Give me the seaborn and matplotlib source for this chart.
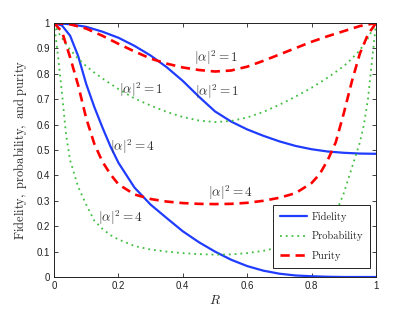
import numpy as np
import pandas as pd
import matplotlib
matplotlib.use("Agg")
import matplotlib.pyplot as plt
import seaborn as sns

# ---- data ----
R_fid1 = [0, 0.05, 0.1, 0.15, 0.2, 0.25, 0.3, 0.35, 0.4, 0.45, 0.5, 0.55, 0.6, 0.65,
          0.7, 0.75, 0.8, 0.85, 0.9, 0.95, 1.0]
fid1 = [1.0, 0.995, 0.985, 0.966, 0.942, 0.91, 0.872, 0.826, 0.772, 0.71, 0.652, 0.612,
        0.581, 0.556, 0.534, 0.516, 0.503, 0.494, 0.489, 0.486, 0.485]

R_fid4 = [0, 0.025, 0.05, 0.075, 0.1, 0.125, 0.15, 0.175, 0.2, 0.25, 0.3, 0.35, 0.4,
          0.45, 0.5, 0.55, 0.6, 0.65, 0.7, 0.75, 0.8, 0.85, 0.9, 0.95, 1.0]
fid4 = [1.0, 0.99, 0.95, 0.87, 0.76, 0.67, 0.59, 0.515, 0.45, 0.352, 0.285, 0.232,
        0.18, 0.137, 0.1, 0.068, 0.043, 0.025, 0.013, 0.006, 0.003, 0.001, 0.0, 0.0, 0.0]

R_prob1 = [0, 0.0125, 0.025, 0.05, 0.075, 0.1, 0.125, 0.15, 0.2, 0.25, 0.3, 0.35, 0.4,
           0.45, 0.5, 0.55, 0.6, 0.65, 0.7, 0.75, 0.8, 0.85, 0.9, 0.925, 0.95, 0.975, 1.0]
prob1 = [1.0, 0.965, 0.94, 0.895, 0.86, 0.83, 0.805, 0.782, 0.74, 0.703, 0.675, 0.65,
         0.63, 0.616, 0.61, 0.614, 0.628, 0.65, 0.678, 0.71, 0.745, 0.785, 0.83,
         0.86, 0.893, 0.94, 1.0]

R_prob4 = [0, 0.0125, 0.025, 0.0375, 0.05, 0.075, 0.1, 0.125, 0.15, 0.175, 0.2, 0.25,
           0.3, 0.35, 0.4, 0.45, 0.5, 0.55, 0.6, 0.65, 0.7, 0.75, 0.8, 0.85, 0.875,
           0.9, 0.925, 0.95, 0.9625, 0.975, 0.9875, 1.0]
prob4 = [1.0, 0.87, 0.72, 0.56, 0.46, 0.355, 0.285, 0.222, 0.19, 0.165, 0.148, 0.122,
         0.108, 0.1, 0.094, 0.09, 0.088, 0.089, 0.094, 0.103, 0.117, 0.137, 0.167,
         0.215, 0.25, 0.33, 0.43, 0.53, 0.6, 0.7, 0.85, 1.0]

R_pur1 = [0, 0.05, 0.1, 0.15, 0.2, 0.25, 0.3, 0.35, 0.4, 0.45, 0.5, 0.55, 0.6, 0.65,
          0.7, 0.75, 0.8, 0.85, 0.9, 0.95, 1.0]
pur1 = [1.0, 0.995, 0.978, 0.95, 0.918, 0.888, 0.86, 0.84, 0.825, 0.815, 0.809, 0.813,
        0.828, 0.851, 0.876, 0.901, 0.926, 0.948, 0.968, 0.988, 1.0]

R_pur4 = [0, 0.025, 0.05, 0.075, 0.1, 0.125, 0.15, 0.175, 0.2, 0.25, 0.3, 0.35, 0.4,
          0.45, 0.5, 0.55, 0.6, 0.65, 0.7, 0.75, 0.8, 0.825, 0.85, 0.875, 0.9, 0.925,
          0.95, 0.975, 1.0]
pur4 = [1.0, 0.965, 0.865, 0.755, 0.625, 0.525, 0.455, 0.405, 0.365, 0.325, 0.307, 0.297,
        0.291, 0.288, 0.287, 0.288, 0.292, 0.3, 0.312, 0.33, 0.37, 0.405, 0.46, 0.53,
        0.645, 0.77, 0.88, 0.955, 1.0]

labels_text = [r"$|\alpha|^2=1$", r"$|\alpha|^2=1$", r"$|\alpha|^2=1$",
               r"$|\alpha|^2=4$", r"$|\alpha|^2=4$", r"$|\alpha|^2=4$"]
labels_x = [0.503, 0.506, 0.27, 0.245, 0.547, 0.208]
labels_y = [0.862, 0.728, 0.736, 0.512, 0.331, 0.232]

x_ticks = [0, 0.2, 0.4, 0.6, 0.8, 1]
x_ticklabels = ["0", "0.2", "0.4", "0.6", "0.8", "1"]
y_ticks = [0, 0.1, 0.2, 0.3, 0.4, 0.5, 0.6, 0.7, 0.8, 0.9, 1]
y_ticklabels = ["0", "0.1", "0.2", "0.3", "0.4", "0.5", "0.6", "0.7", "0.8", "0.9", "1"]

# ---- styling ----
sns.set_style("ticks")
plt.rcParams["mathtext.fontset"] = "cm"
plt.rcParams["font.family"] = ["Liberation Sans", "DejaVu Sans"]

BLUE = "#1f3cff"
GREEN = "#3fbf3f"
RED = "#ff0000"

fig = plt.figure(figsize=(4.15, 3.12), dpi=100)
ax = fig.add_axes([54 / 415, 35 / 312, 322 / 415, 254 / 312])

def draw(R, v, color, ls, lw, label):
    df = pd.DataFrame({"R": R, "v": v})
    sns.lineplot(data=df, x="R", y="v", ax=ax, color=color, linestyle=ls,
                 linewidth=lw, label=label, estimator=None, sort=True)

draw(R_fid1, fid1, BLUE, "-", 1.6, "Fidelity")
draw(R_fid4, fid4, BLUE, "-", 1.6, None)
draw(R_prob1, prob1, GREEN, (0, (1, 2.2)), 1.3, "Probability")
draw(R_prob4, prob4, GREEN, (0, (1, 2.2)), 1.3, None)
draw(R_pur1, pur1, RED, (0, (3.5, 2.2)), 1.9, "Purity")
draw(R_pur4, pur4, RED, (0, (3.5, 2.2)), 1.9, None)

for t, x, y in zip(labels_text, labels_x, labels_y):
    ax.text(x, y, t, ha="center", va="center", fontsize=9.5, color="#333333")

ax.set_xlim(0, 1)
ax.set_ylim(0, 1)
ax.set_xticks(x_ticks)
ax.set_xticklabels(x_ticklabels)
ax.set_yticks(y_ticks)
ax.set_yticklabels(y_ticklabels)
ax.tick_params(direction="in", top=True, right=True, length=3, width=0.6,
               labelsize=7, colors="#222222", pad=3)
for s in ax.spines.values():
    s.set_visible(True)
    s.set_linewidth(0.7)
    s.set_color("#222222")

ax.set_xlabel(r"$R$", fontsize=9.5, labelpad=2)
ax.set_ylabel(r"$\mathrm{Fidelity,\ probability,\ and\ purity}$", fontsize=9, labelpad=5)

leg = ax.legend(loc="lower right", bbox_to_anchor=(1 - 6 / 322, 9 / 254),
                borderaxespad=0, frameon=True, fancybox=False, framealpha=1,
                edgecolor="#222222", handlelength=2.6, labelspacing=0.9,
                borderpad=0.7, handletextpad=0.4,
                prop={"family": "cmr10", "size": 7.5})
leg.get_frame().set_linewidth(0.7)

fig.savefig("out.png", dpi=100)
